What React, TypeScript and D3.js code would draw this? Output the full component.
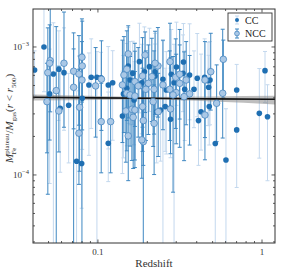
import React from 'react';
import * as d3 from 'd3';

// cool-core clusters: redshift, Fe ratio, errors in dex (up / down)
const ccZ = [0.0411, 0.0469, 0.0535, 0.0578, 0.0621, 0.091, 0.0881, 0.0986, 0.1043, 0.0508, 0.0589, 0.0663, 0.0802, 0.0741, 0.0796, 0.1156, 0.519, 0.603, 1.043, 0.701, 0.963, 1.08, 0.701, 0.425, 0.477, 0.41, 0.482, 0.403, 0.332, 0.301, 0.249, 0.28, 0.33, 0.362, 0.291, 0.447, 0.469, 0.473, 0.261, 0.338, 0.385, 0.241, 0.257, 0.277, 0.179, 0.153, 0.206, 0.192, 0.223, 0.163, 0.223, 0.1156, 0.123, 0.157, 0.185, 0.150, 0.143, 0.141, 0.228, 0.166];
const ccV = [6.6e-4, 1.0e-3, 6.15e-4, 6.7e-4, 6.3e-4, 5.8e-4, 5.05e-4, 5.8e-4, 5.73e-4, 4.3e-4, 3.32e-4, 3.5e-4, 3.98e-4, 1.28e-4, 1.23e-4, 1.77e-4, 1.76e-4, 1.31e-4, 6.53e-4, 4.61e-4, 3.03e-4, 2.85e-4, 2.25e-4, 3.12e-4, 3.42e-4, 2.66e-4, 5.52e-4, 5.69e-4, 7.64e-4, 6.98e-4, 5.6e-4, 6.12e-4, 6.23e-4, 6.04e-4, 5.26e-4, 5.8e-4, 5.45e-4, 4.84e-4, 4.61e-4, 4.67e-4, 4.67e-4, 3.22e-4, 3.42e-4, 2.72e-4, 7.68e-4, 7.11e-4, 7.02e-4, 6.41e-4, 6.41e-4, 6.23e-4, 5.93e-4, 5.05e-4, 5.26e-4, 5.52e-4, 5.26e-4, 4.76e-4, 4.3e-4, 2.89e-4, 3.12e-4, 3.85e-4];
const ccUp = [0.15, 0.3, 0.4, 0.3, 0.35, 0.3, 0.25, 0.2, 0.2, 0.35, 0.3, 0.25, 0.35, 0.55, 0.5, 0.4, 0.35, 0.4, 0.15, 0.2, 0.35, 0.25, 0.3, 0.45, 0.3, 0.35, 0.3, 0.35, 0.3, 0.35, 0.3, 0.35, 0.3, 0.4, 0.3, 0.3, 0.3, 0.25, 0.3, 0.3, 0.3, 0.35, 0.3, 0.4, 0.3, 0.3, 0.3, 0.35, 0.3, 0.25, 0.25, 0.3, 0.25, 0.3, 0.3, 0.35, 0.3, 0.35, 0.3, 0.3];
const ccDn = [0.2, 0.35, 3, 0.4, 0.45, 0.4, 0.55, 3, 0.35, 0.7, 0.5, 0.45, 0.4, 3, 0.35, 0.3, 3, 3, 0.25, 0.3, 0.35, 0.5, 0.45, 0.3, 0.3, 0.35, 0.35, 0.3, 0.3, 0.3, 3, 0.35, 0.3, 0.35, 3, 0.3, 0.35, 0.3, 0.5, 0.4, 0.3, 0.4, 0.35, 0.3, 0.4, 0.45, 0.35, 0.4, 0.35, 0.4, 0.3, 0.5, 0.45, 0.35, 0.4, 0.45, 0.5, 0.45, 0.4, 0.35];

// non-cool-core clusters
const nccZ = [0.0512, 0.0508, 0.0495, 0.0621, 0.0711, 0.0766, 0.0799, 0.0802, 0.0799, 0.0968, 0.0711, 0.0557, 0.0489, 0.0578, 0.0773, 0.0766, 0.1047, 0.189, 0.581, 0.576, 0.449, 0.529, 0.487, 0.449, 0.275, 0.232, 0.298, 0.315, 0.345, 0.315, 0.249, 0.274, 0.30, 0.287, 0.362, 0.335, 0.277, 0.153, 0.194, 0.223, 0.150, 0.144, 0.187, 0.213, 0.105, 0.141, 0.168, 0.203, 0.22, 0.196, 0.176, 0.150, 0.157, 0.168, 0.217, 0.148, 0.161, 0.168, 0.187, 0.164, 0.189, 0.1195, 0.233, 0.22, 0.185, 0.153];
const nccV = [7.82e-4, 7.46e-4, 6.3e-4, 7.46e-4, 6.46e-4, 6.15e-4, 8.31e-4, 7.11e-4, 5.52e-4, 4.96e-4, 4.84e-4, 4.56e-4, 3.74e-4, 3.16e-4, 3.38e-4, 2.12e-4, 2.61e-4, 1.82e-4, 8.01e-4, 4.35e-4, 2.94e-4, 3.63e-4, 6.41e-4, 5.52e-4, 7.68e-4, 7.11e-4, 5.8e-4, 6.12e-4, 5.52e-4, 5.2e-4, 5.05e-4, 4.67e-4, 4.4e-4, 4.22e-4, 4.3e-4, 4.09e-4, 3.28e-4, 8.82e-4, 8.66e-4, 7.46e-4, 6.7e-4, 6.04e-4, 5.93e-4, 5.86e-4, 5.6e-4, 5.05e-4, 5.36e-4, 5.2e-4, 4.67e-4, 4.67e-4, 4.96e-4, 4.35e-4, 4.22e-4, 4.14e-4, 3.74e-4, 3.16e-4, 3.26e-4, 3.22e-4, 3.42e-4, 2.82e-4, 2.66e-4, 2.61e-4, 3.12e-4, 2.53e-4, 1.88e-4, 2.02e-4];
const nccUp = [0.45, 0.3, 0.35, 0.4, 0.3, 0.3, 0.3, 0.35, 0.3, 0.3, 0.3, 0.5, 0.3, 0.35, 0.4, 0.5, 0.3, 0.5, 0.15, 0.5, 0.3, 0.3, 0.3, 0.3, 0.3, 0.3, 0.3, 0.35, 0.3, 0.3, 0.35, 0.3, 0.3, 0.3, 0.3, 0.35, 0.4, 0.22, 0.18, 0.25, 0.3, 0.3, 0.3, 0.3, 0.3, 0.35, 0.3, 0.3, 0.3, 0.3, 0.3, 0.3, 0.3, 0.35, 0.3, 0.35, 0.3, 0.3, 0.3, 0.3, 0.35, 0.3, 0.3, 0.3, 0.4, 0.45];
const nccDn = [0.4, 0.6, 0.95, 0.5, 0.45, 0.4, 0.35, 0.5, 3, 0.4, 3, 3, 0.4, 0.32, 0.5, 0.4, 0.4, 3, 0.3, 0.35, 0.35, 0.3, 0.3, 0.45, 0.35, 0.4, 0.4, 0.35, 0.35, 0.5, 0.35, 0.4, 0.4, 0.76, 0.4, 0.5, 0.35, 0.5, 0.45, 0.4, 0.4, 0.45, 0.4, 0.35, 0.4, 0.45, 0.35, 0.4, 0.35, 0.4, 0.4, 0.45, 0.4, 0.5, 0.35, 0.4, 0.4, 0.45, 0.35, 0.4, 0.35, 0.4, 0.35, 0.4, 0.3, 0.35];

// best-fit relation and its confidence band
const fitZ = [0.0402, 0.1, 0.2, 0.5, 1.2];
const fitMid = [4.05e-4, 4.0e-4, 3.97e-4, 3.93e-4, 3.9e-4];
const fitLo = [3.82e-4, 3.86e-4, 3.88e-4, 3.75e-4, 3.56e-4];
const fitHi = [4.25e-4, 4.13e-4, 4.07e-4, 4.1e-4, 4.15e-4];

const xMajor = [0.1, 1];
const xMinor = [0.05, 0.06, 0.07, 0.08, 0.09, 0.2, 0.3, 0.4, 0.5, 0.6, 0.7, 0.8, 0.9];
const yMajor = [1e-4, 1e-3];
const yMinor = [3e-5, 4e-5, 5e-5, 6e-5, 7e-5, 8e-5, 9e-5, 2e-4, 3e-4, 4e-4, 5e-4, 6e-4, 7e-4, 8e-4, 9e-4];

const W = 293;
const H = 276;
const m = { left: 33, right: 275, top: 9, bottom: 243 };

const x = d3.scaleLog().domain([0.0402, 1.2]).range([m.left, m.right]);
const y = d3.scaleLog().domain([2.94e-5, 1.98e-3]).range([m.bottom, m.top]);

const serif = '"Liberation Serif", "Times New Roman", serif';
const ccBar = '#c3d8ee';
const nccBar = '#3f88c2';

const ErrBars = ({ zs, vs, up, dn, color, width }: any) => (
  <g stroke={color} strokeWidth={width} fill="none">
    {zs.map((z: number, i: number) => {
      const px = x(z);
      const yTop = y(vs[i] * Math.pow(10, up[i]));
      const yBot = y(vs[i] / Math.pow(10, dn[i]));
      return (
        <g key={i}>
          <line x1={px} x2={px} y1={yTop} y2={yBot} />
          <line x1={px - 2} x2={px + 2} y1={yTop} y2={yTop} />
          <line x1={px - 2} x2={px + 2} y1={yBot} y2={yBot} />
        </g>
      );
    })}
  </g>
);

const App = () => {
  const band = d3
    .area<number>()
    .x((_, i) => x(fitZ[i]))
    .y0((_, i) => y(fitLo[i]))
    .y1((_, i) => y(fitHi[i]))
    .curve(d3.curveMonotoneX);
  const line = d3
    .line<number>()
    .x((_, i) => x(fitZ[i]))
    .y((d) => y(d))
    .curve(d3.curveMonotoneX);

  const majorLen = 3.5;
  const minorLen = 2;

  return (
    <svg
      width={W}
      height={H}
      style={{ position: 'absolute', left: 0, top: 0, background: '#fff' }}
      fontFamily={serif}
    >
      <defs>
        <clipPath id="plot">
          <rect x={m.left} y={m.top} width={m.right - m.left} height={m.bottom - m.top} />
        </clipPath>
      </defs>
      <g clipPath="url(#plot)">
        <ErrBars zs={ccZ} vs={ccV} up={ccUp} dn={ccDn} color={ccBar} width={1} />
        <ErrBars zs={nccZ} vs={nccV} up={nccUp} dn={nccDn} color={nccBar} width={1} />
        <path d={band(fitMid) || ''} fill="#888" opacity={0.55} />
        <path d={line(fitMid) || ''} fill="none" stroke="#111" strokeWidth={1.6} />
        {ccZ.map((z, i) => (
          <circle key={'c' + i} cx={x(z)} cy={y(ccV[i])} r={2.8} fill="#1f6fb2" />
        ))}
        {nccZ.map((z, i) => (
          <circle
            key={'n' + i}
            cx={x(z)}
            cy={y(nccV[i])}
            r={3.3}
            fill="#aac8e6"
            stroke="#4a88c0"
            strokeWidth={0.8}
          />
        ))}
      </g>

      {/* frame */}
      <rect
        x={m.left}
        y={m.top}
        width={m.right - m.left}
        height={m.bottom - m.top}
        fill="none"
        stroke="#333"
        strokeWidth={1}
      />

      {/* ticks, inward on all sides */}
      <g stroke="#333" strokeWidth={0.8}>
        {xMajor.map((t) => (
          <g key={'xM' + t}>
            <line x1={x(t)} x2={x(t)} y1={m.bottom} y2={m.bottom - majorLen} />
            <line x1={x(t)} x2={x(t)} y1={m.top} y2={m.top + majorLen} />
          </g>
        ))}
        {xMinor.map((t) => (
          <g key={'xm' + t}>
            <line x1={x(t)} x2={x(t)} y1={m.bottom} y2={m.bottom - minorLen} />
            <line x1={x(t)} x2={x(t)} y1={m.top} y2={m.top + minorLen} />
          </g>
        ))}
        {yMajor.map((t) => (
          <g key={'yM' + t}>
            <line x1={m.left} x2={m.left + majorLen} y1={y(t)} y2={y(t)} />
            <line x1={m.right} x2={m.right - majorLen} y1={y(t)} y2={y(t)} />
          </g>
        ))}
        {yMinor.map((t) => (
          <g key={'ym' + t}>
            <line x1={m.left} x2={m.left + minorLen} y1={y(t)} y2={y(t)} />
            <line x1={m.right} x2={m.right - minorLen} y1={y(t)} y2={y(t)} />
          </g>
        ))}
      </g>

      {/* tick labels */}
      <g fontSize={9} fill="#333">
        {xMajor.map((t) => (
          <text key={'xl' + t} x={x(t)} y={m.bottom + 12} textAnchor="middle">
            {d3.format('~g')(t)}
          </text>
        ))}
        {yMajor.map((t) => (
          <text key={'yl' + t} x={m.left - 4} y={y(t) + 3} textAnchor="end">
            10
            <tspan fontSize={6.5} dy={-4}>
              {'\u2212' + Math.round(-Math.log10(t))}
            </tspan>
          </text>
        ))}
      </g>

      {/* axis titles */}
      <text x={(m.left + m.right) / 2} y={267} textAnchor="middle" fontSize={11} fill="#333">
        Redshift
      </text>
      <g transform="translate(13,115) rotate(-90)" fill="#333">
        <text x={-48} y={0} fontSize={11}>
          <tspan fontStyle="italic">M</tspan>
          <tspan fontSize={7} dy={-4.5}>plateau</tspan>
          <tspan fontSize={7} dx={-21} dy={7.5}>Fe</tspan>
          <tspan fontSize={11} dx={14} dy={-3}>/</tspan>
          <tspan fontStyle="italic">M</tspan>
          <tspan fontSize={7} dy={3}>gas</tspan>
          <tspan fontSize={11} dy={-3}>(</tspan>
          <tspan fontStyle="italic">r</tspan>
          <tspan>{' < '}</tspan>
          <tspan fontStyle="italic">r</tspan>
          <tspan fontSize={7} dy={3}>500</tspan>
          <tspan fontSize={11} dy={-3}>)</tspan>
        </text>
      </g>

      {/* legend */}
      <g>
        <rect x={228} y={13} width={44} height={28} fill="#fff" stroke="#333" strokeWidth={0.9} />
        <g stroke={ccBar} strokeWidth={1}>
          <line x1={237} x2={237} y1={16} y2={24} />
          <line x1={235} x2={239} y1={16} y2={16} />
          <line x1={235} x2={239} y1={24} y2={24} />
        </g>
        <circle cx={237} cy={20} r={2} fill="#1f6fb2" />
        <g stroke={nccBar} strokeWidth={1}>
          <line x1={237} x2={237} y1={29} y2={38} />
          <line x1={235} x2={239} y1={29} y2={29} />
          <line x1={235} x2={239} y1={38} y2={38} />
        </g>
        <circle cx={237} cy={33.5} r={2.4} fill="#aac8e6" stroke="#4a88c0" strokeWidth={0.8} />
        <text x={245} y={23.5} fontSize={10} fill="#222">CC</text>
        <text x={245} y={37} fontSize={10} fill="#222">NCC</text>
      </g>
    </svg>
  );
};

export default App;
